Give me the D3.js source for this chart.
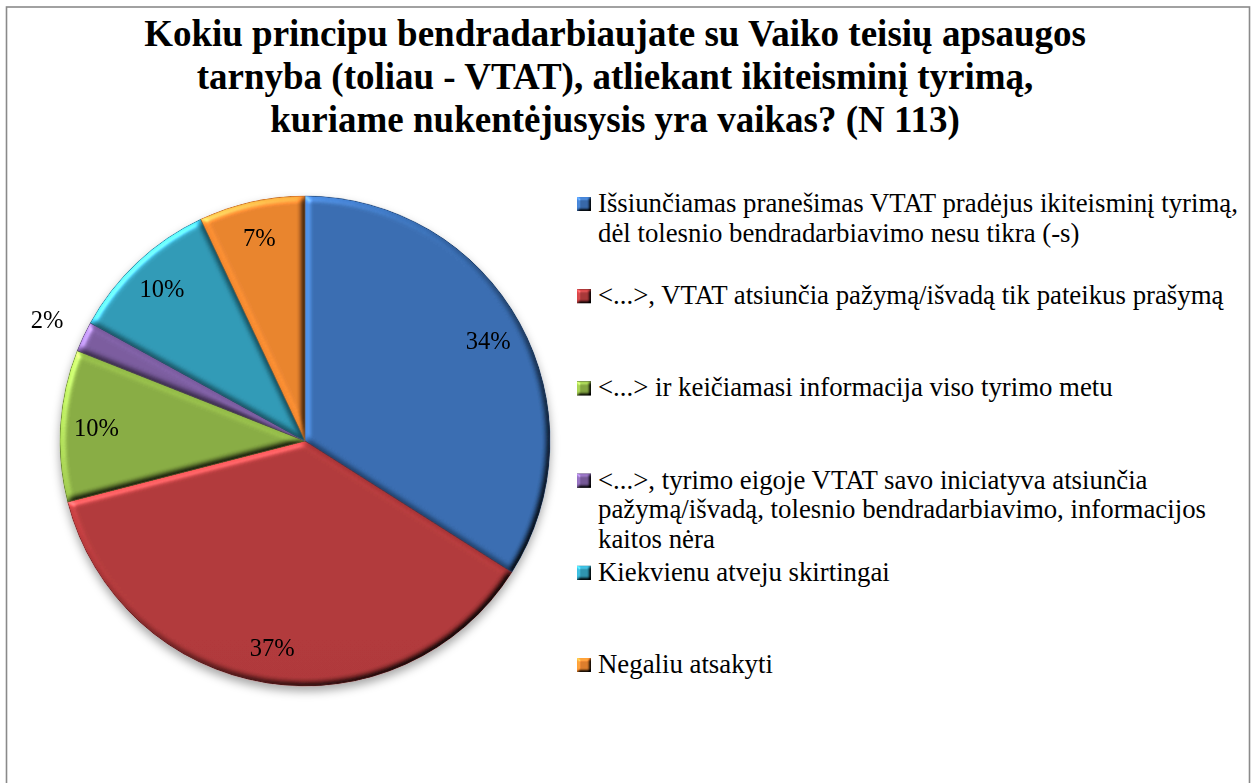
<!DOCTYPE html>
<html>
<head>
<meta charset="utf-8">
<script src="https://cdn.jsdelivr.net/npm/d3@7"></script>
<style>
  body { margin: 0; background: #fff; }
  svg { display: block; font-family: "Liberation Serif", "Times New Roman", serif; }
</style>
</head>
<body>
<div id="chart"></div>
<script>
// data
const titleLines = [
  "Kokiu principu bendradarbiaujate su Vaiko teisių apsaugos",
  "tarnyba (toliau - VTAT), atliekant ikiteisminį tyrimą,",
  "kuriame nukentėjusysis yra vaikas? (N 113)"
];
const categories = [
  "Išsiunčiamas pranešimas VTAT pradėjus ikiteisminį tyrimą,\ndėl tolesnio bendradarbiavimo nesu tikra (-s)",
  "<...>, VTAT atsiunčia pažymą/išvadą tik pateikus prašymą",
  "<...> ir keičiamasi informacija viso tyrimo metu",
  "<...>, tyrimo eigoje VTAT savo iniciatyva atsiunčia\npažymą/išvadą, tolesnio bendradarbiavimo, informacijos\nkaitos nėra",
  "Kiekvienu atveju skirtingai",
  "Negaliu atsakyti"
];
const values = [34, 37, 10, 2, 10, 7];
const colors = ["#386CB0", "#B0383A", "#88AC42", "#795B9D", "#2F9AB6", "#E8832D"];

const width = 1256, height = 783;
const cx = 305, cy = 441, radius = 245;

const svg = d3.select("#chart").append("svg")
  .attr("width", width)
  .attr("height", height);

const defs = svg.append("defs");

function addBevel(id, blur, scale) {
  const f = defs.append("filter").attr("id", id)
    .attr("color-interpolation-filters", "sRGB")
    .attr("x", "-10%").attr("y", "-10%").attr("width", "120%").attr("height", "120%");
  f.append("feGaussianBlur").attr("in", "SourceAlpha").attr("stdDeviation", blur).attr("result", "blur");
  f.append("feDiffuseLighting").attr("in", "blur").attr("surfaceScale", scale)
    .attr("diffuseConstant", 1).attr("lighting-color", "#fff").attr("result", "diff")
    .append("feDistantLight").attr("azimuth", 225).attr("elevation", 40);
  f.append("feComposite").attr("in", "SourceGraphic").attr("in2", "diff")
    .attr("operator", "arithmetic").attr("k1", 1.46).attr("k2", 0).attr("k3", 0).attr("k4", 0)
    .attr("result", "shaded");
  f.append("feSpecularLighting").attr("in", "blur").attr("surfaceScale", scale)
    .attr("specularConstant", 0.7).attr("specularExponent", 28)
    .attr("lighting-color", "#fff").attr("result", "spec")
    .append("feDistantLight").attr("azimuth", 225).attr("elevation", 40);
  f.append("feComposite").attr("in", "spec").attr("in2", "SourceAlpha")
    .attr("operator", "in").attr("result", "specIn");
  f.append("feComposite").attr("in", "shaded").attr("in2", "specIn")
    .attr("operator", "arithmetic").attr("k1", 0).attr("k2", 1).attr("k3", 0.3).attr("k4", 0);
}
addBevel("bevel", 3, 3);
addBevel("bevelSmall", 1.6, 2);

const shadow = defs.append("filter").attr("id", "shadow")
  .attr("x", "-10%").attr("y", "-10%").attr("width", "120%").attr("height", "125%");
shadow.append("feDropShadow").attr("dx", 0).attr("dy", 5).attr("stdDeviation", 5)
  .attr("flood-color", "#000").attr("flood-opacity", 0.35);

colors.forEach((c, i) => {
  const g = defs.append("linearGradient").attr("id", "grad" + i)
    .attr("gradientUnits", "userSpaceOnUse")
    .attr("x1", 0).attr("y1", cy - radius).attr("x2", 0).attr("y2", cy + radius);
  g.append("stop").attr("offset", 0).attr("stop-color", d3.color(c).brighter(0.15));
  g.append("stop").attr("offset", 1).attr("stop-color", d3.color(c).darker(0.25));
});

// frame
svg.append("rect")
  .attr("x", 6.5).attr("y", 7).attr("width", 1243).attr("height", 800)
  .attr("fill", "#fff").attr("stroke", "#8a8a8a").attr("stroke-width", 1.6);

// title
svg.append("g").selectAll("text")
  .data(titleLines)
  .enter().append("text")
  .attr("x", 615)
  .attr("y", (d, i) => 46 + i * 43)
  .attr("text-anchor", "middle")
  .attr("font-size", "37px")
  .attr("font-weight", "700")
  .attr("fill", "#000")
  .text(d => d);

// pie
const pie = d3.pie().sort(null).value(d => d);
const arcs = pie(values);
const arc = d3.arc().innerRadius(0).outerRadius(radius);
const labelArc = d3.arc().innerRadius(209).outerRadius(209);
const outArc = d3.arc().innerRadius(285).outerRadius(285);

const pieG = svg.append("g")
  .attr("transform", `translate(${cx},${cy})`);

const sliceG = pieG.append("g").attr("filter", "url(#shadow)");
sliceG.selectAll("path")
  .data(arcs)
  .enter().append("path")
  .attr("d", arc)
  .attr("fill", (d, i) => `url(#grad${i})`)
  .attr("filter", "url(#bevel)");

sliceG.selectAll("path.edge")
  .data(arcs)
  .enter().append("path")
  .attr("class", "edge")
  .attr("d", arc)
  .attr("fill", "none")
  .attr("stroke", (d, i) => d3.color(colors[i]).darker(0.8))
  .attr("stroke-opacity", 0.5)
  .attr("stroke-width", 0.8);

pieG.selectAll("text")
  .data(arcs)
  .enter().append("text")
  .attr("transform", d => `translate(${(d.data < 5 ? outArc : labelArc).centroid(d)})`)
  .attr("text-anchor", "middle")
  .attr("dy", "0.35em")
  .attr("font-size", "24.5px")
  .attr("fill", "#000")
  .text(d => d.data + "%");

// legend
const legend = svg.append("g");
const item = legend.selectAll("g")
  .data(categories)
  .enter().append("g")
  .attr("transform", (d, i) => `translate(577,${212 + i * 92.2})`);

item.append("rect")
  .attr("x", 0).attr("y", -15)
  .attr("width", 14).attr("height", 14)
  .attr("fill", (d, i) => colors[i])
  .attr("filter", "url(#bevelSmall)");

item.append("text")
  .attr("font-size", "26.8px")
  .attr("fill", "#000")
  .selectAll("tspan")
  .data(d => d.split("\n"))
  .enter().append("tspan")
  .attr("x", 21)
  .attr("y", (d, j) => j * 29.5)
  .text(d => d);
</script>
</body>
</html>
